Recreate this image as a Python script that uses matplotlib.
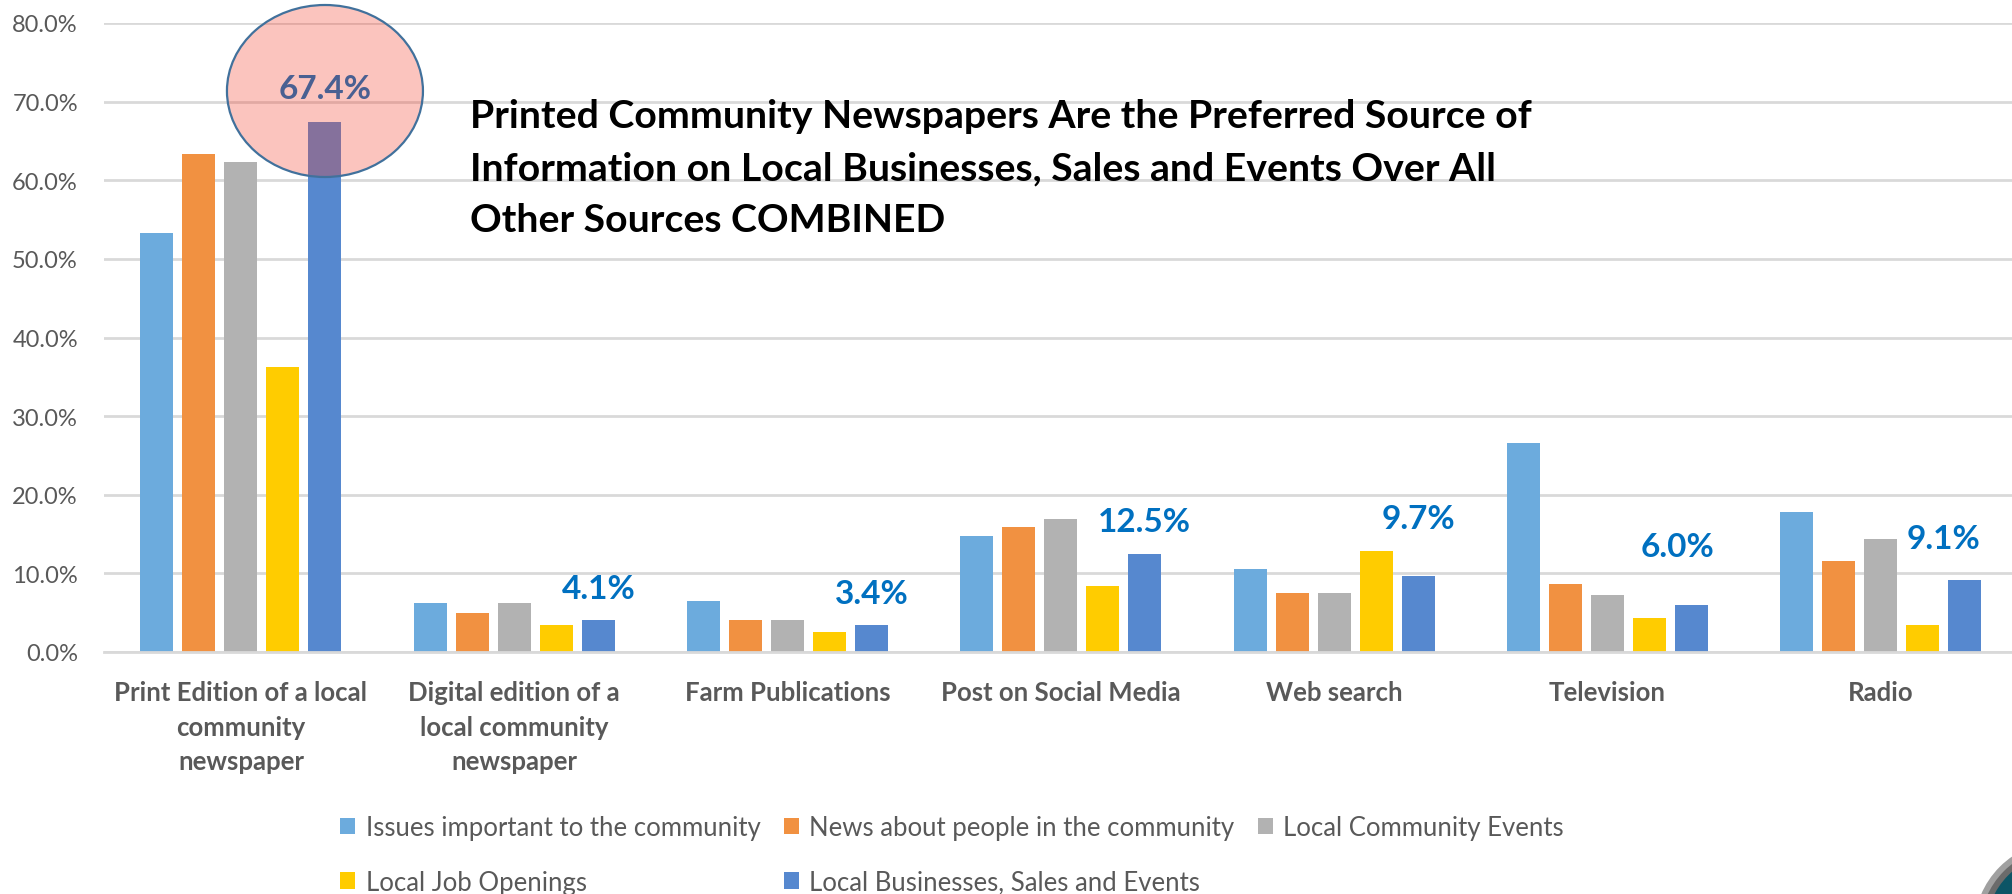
import matplotlib
matplotlib.use("Agg")
import matplotlib.pyplot as plt
from matplotlib.patches import Ellipse
import numpy as np

# ---------------- data ----------------
categories = [
    "Print Edition of a local\ncommunity\nnewspaper",
    "Digital edition of a\nlocal community\nnewspaper",
    "Farm Publications",
    "Post on Social Media",
    "Web search",
    "Television",
    "Radio",
]
series_names = [
    "Issues important to the community",
    "News about people in the community",
    "Local Community Events",
    "Local Job Openings",
    "Local Businesses, Sales and Events",
]
issues = [53.3, 6.2, 6.5, 14.7, 10.6, 26.6, 17.8]
news = [63.3, 5.0, 4.1, 15.9, 7.5, 8.7, 11.6]
community_events = [62.3, 6.2, 4.1, 16.9, 7.5, 7.2, 14.4]
job_openings = [36.3, 3.4, 2.5, 8.4, 12.8, 4.3, 3.4]
businesses = [67.4, 4.1, 3.4, 12.5, 9.7, 6.0, 9.1]
y_ticks = [0, 10, 20, 30, 40, 50, 60, 70, 80]

title_lines = [
    "Printed Community Newspapers Are the Preferred Source of",
    "Information on Local Businesses, Sales and Events Over All",
    "Other Sources COMBINED",
]

# ---------------- style ----------------
colors = ["#6CABDD", "#F19141", "#B2B2B2", "#FFCC00", "#5688CF"]
label_color = "#0070C0"
grey_text = "#595959"
grid_color = "#D9D9D9"
FONT = "Lato"
# label placement tweaks (category units, % units)
label_dx = [0, 0, 0, 0, 0, -0.05, -0.077]
label_dy = [3.0, 2.8, 2.8, 2.9, 6.1, 6.2, 4.1]

W, H = 2012, 895
fig = plt.figure(figsize=(W / 100, H / 100), dpi=100)
fig.patch.set_facecolor("white")

x0_px, zero_px, top_px, cat_px = 104.3, 653, 24, 273.3
px_per_pct = (zero_px - top_px) / 80.0
ax = fig.add_axes([x0_px / W, 1 - zero_px / H, 7 * cat_px / W, (zero_px - top_px) / H])
ax.set_xlim(-0.5, 6.5)
ax.set_ylim(0, 80)

x = np.arange(len(categories))
step = 42 / cat_px
bw = 33 / cat_px
all_series = [issues, news, community_events, job_openings, businesses]
for i, (vals, c, name) in enumerate(zip(all_series, colors, series_names)):
    ax.bar(x + (i - 2) * step, vals, width=bw, color=c, label=name, zorder=2)

# grid & axes
ax.set_yticks(y_ticks)
ax.set_yticklabels([f"{v:.1f}%" for v in y_ticks], fontsize=17, color=grey_text, family=FONT)
ax.yaxis.grid(True, color=grid_color, lw=2)
ax.set_axisbelow(True)
ax.tick_params(axis="y", length=0, pad=19)
ax.tick_params(axis="x", length=0)
ax.set_xticks([])
for s in ["top", "right", "left"]:
    ax.spines[s].set_visible(False)
ax.spines["bottom"].set_color(grid_color)
ax.spines["bottom"].set_linewidth(2)

# category labels
for xi, cat in zip(x, categories):
    ax.text(xi, -3.6, cat, ha="center", va="top", fontsize=18.5, fontweight="bold",
            color=grey_text, family=FONT, linespacing=1.52, clip_on=False)

# data labels on the "Local Businesses" series
bx = x + 2 * step
for xi, v, dx, dy in zip(bx, businesses, label_dx, label_dy):
    ax.text(xi + dx, v + dy, f"{v:.1f}%", ha="center", va="baseline", fontsize=24,
            fontweight="bold", color=label_color, family=FONT, zorder=3, clip_on=False)

# highlight ellipse
ell = Ellipse((bx[0], (zero_px - 92) / px_per_pct), width=196 / cat_px,
              height=172 / px_per_pct,
              facecolor=(0.96, 0.235, 0.157, 0.3), edgecolor="#41719C", lw=1.6,
              zorder=5, clip_on=False)
ax.add_patch(ell)

# title text
for k, line in enumerate(title_lines):
    fig.text(470 / W, 1 - (128 + 52 * k) / H, line, ha="left", va="baseline",
             fontsize=28.3, fontweight="bold", color="black", family=FONT)

# legend
handles, labels = ax.get_legend_handles_labels()
order = [0, 3, 1, 4, 2]
leg = fig.legend([handles[i] for i in order], [labels[i] for i in order],
                 loc="upper left", bbox_to_anchor=(340 / W, 1 - 816 / H), ncol=3,
                 frameon=False, handlelength=0.6, handleheight=0.6,
                 handletextpad=0.4, columnspacing=0.9, labelspacing=1.15,
                 borderaxespad=0, borderpad=0, prop={"family": FONT, "size": 18.5})
for t in leg.get_texts():
    t.set_color(grey_text)

# decorative corner icon (partially visible)
cx, cy = 2062 / W, 1 - 930 / H
for r, fc in [(88, "#a0a0a0"), (82, "#6b6b6b"), (76, "#0d5566")]:
    fig.add_artist(Ellipse((cx, cy), 2 * r / W, 2 * r / H, transform=fig.transFigure,
                           facecolor=fc, edgecolor="none", clip_on=False))

fig.savefig("out.png", dpi=100, facecolor="white")
